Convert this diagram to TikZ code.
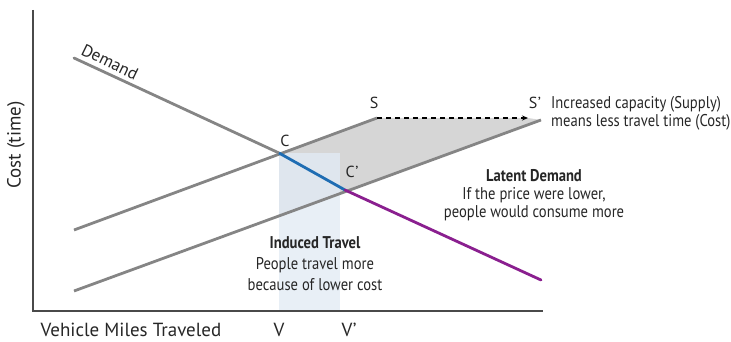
\documentclass[tikz,border=0pt]{standalone}
\usepackage{fontspec}
\setmainfont{PT Sans}
\newfontfamily\condfont{PT Sans}[FakeStretch=0.86]
\usetikzlibrary{arrows.meta}
\definecolor{axisgray}{HTML}{4A4A4A}
\definecolor{linegray}{HTML}{858585}
\definecolor{fillgray}{HTML}{D6D6D6}
\definecolor{fillblue}{HTML}{E2EBF4}
\definecolor{cblue}{HTML}{1F6DB3}
\definecolor{cpurple}{HTML}{8A1F8F}
\tikzset{
  curve/.style={line width=2.8pt, color=linegray},
  axisline/.style={line width=1.8pt, color=axisgray},
  lbl/.style={font=\fontsize{16}{17}\selectfont, text=black!85, inner sep=0pt},
  biglbl/.style={font=\fontsize{19}{20}\selectfont, text=black!85, inner sep=0pt},
  note/.style={font=\condfont\fontsize{17}{18}\selectfont, text=black!85, align=center, inner sep=0pt},
}
\begin{document}
\begin{tikzpicture}[x=1pt,y=-1pt]
\useasboundingbox (0,0) rectangle (731,342);
% key points
\coordinate (O) at (33,311);
\coordinate (Ytop) at (33,10);
\coordinate (Xend) at (543,311);
\coordinate (D0) at (74,58);
\coordinate (C) at (279,153);
\coordinate (Cp) at (345,190);
\coordinate (D1) at (541,280);
\coordinate (S0) at (74,230);
\coordinate (S1) at (377,118);
\coordinate (Sp0) at (74,291);
\coordinate (Sp1) at (541,120);
\coordinate (Dash1) at (528,118);
\coordinate (SpC) at (279,216);
% shading
\fill[fillgray] (C) -- (S1) -- (Dash1) -- (Sp1) -- (SpC) -- cycle;
\fill[fillblue, opacity=0.8] (279,153) rectangle (340,311);
% axes
\draw[axisline] (Ytop) -- (O) -- (Xend);
% supply lines
\draw[curve] (S0) -- (S1);
\draw[curve] (Sp0) -- (Sp1);
% dashed shift
\draw[line width=1.4pt, dash pattern=on 5pt off 4pt, -{Stealth[length=6pt,width=5pt]}] (S1) -- (Dash1);
% demand
\draw[curve, line cap=round] (D0) -- (C);
\draw[line width=2.8pt, cblue] (C) -- (Cp);
\draw[line width=2.8pt, cpurple, line cap=round] (Cp) -- (D1);
% labels
\node[lbl, font=\fontsize{17}{18}\selectfont, rotate=-26] (demandlbl) at (110,62) {Demand};
\node[lbl] (Clbl) at (285,141) {C};
\node[lbl] (Cplbl) at (352,172) {C\kern0.5pt\char"2019};
\node[lbl] (Slbl) at (374,103) {S};
\node[lbl] (Splbl) at (535,103) {S\kern0.5pt\char"2019};
\node[note, anchor=west, align=left] (caplbl) at (551,113.5) {Increased capacity (Supply)\\means less travel time (Cost)};
\node[note] (latent) at (534,195) {\textbf{Latent Demand}\\If the price were lower,\\people would consume more};
\node[note, font=\condfont\fontsize{17}{21}\selectfont] (induced) at (315,264) {\textbf{Induced Travel}\\People travel more\\because of lower cost};
\node[biglbl, rotate=90] (ylbl) at (16,145) {Cost (time)};
\node[biglbl] (xlbl) at (131,330) {Vehicle Miles Traveled};
\node[biglbl] (Vlbl) at (279,330) {V};
\node[biglbl] (Vplbl) at (349,330) {V\kern0.5pt\char"2019};
\end{tikzpicture}
\end{document}
